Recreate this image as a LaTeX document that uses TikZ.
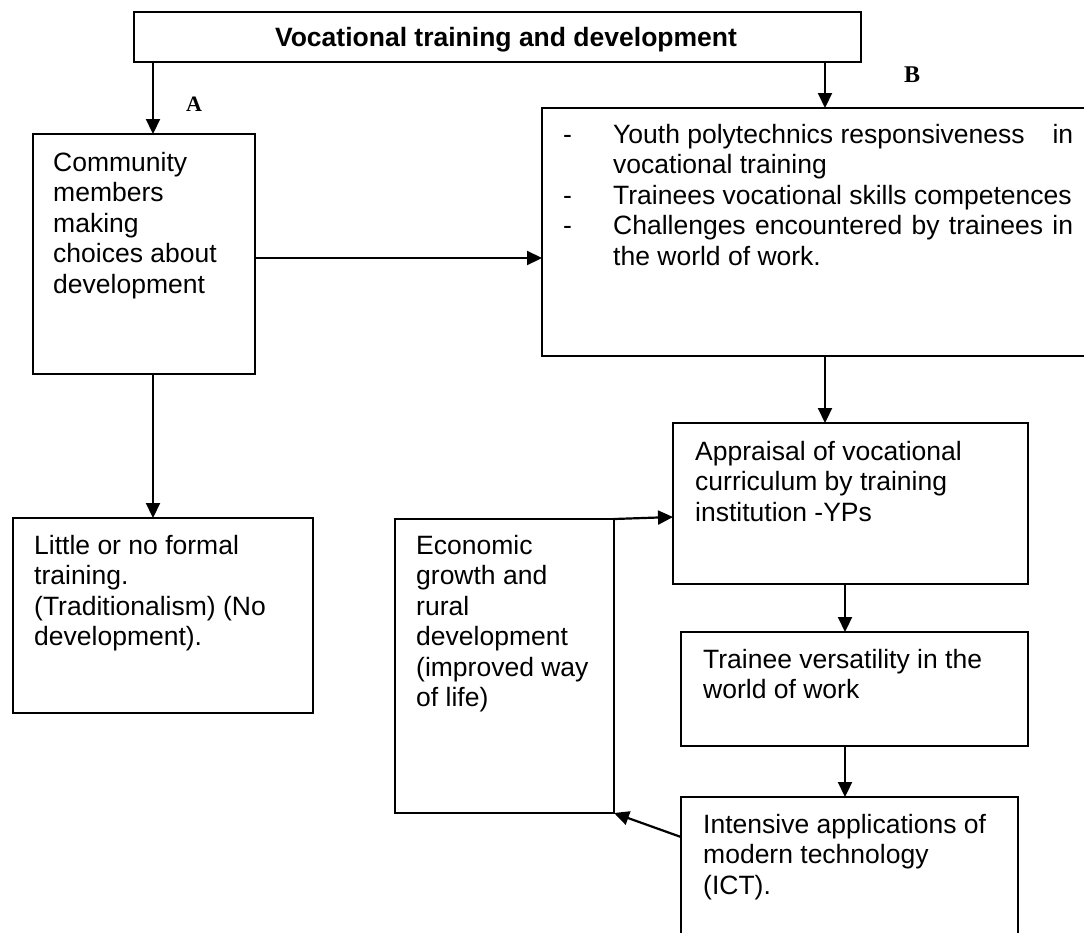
\documentclass[tikz,border=0pt]{standalone}
\usepackage{fontspec}
\setmainfont{Liberation Sans}
\newfontfamily\tnr{Liberation Serif}
\usetikzlibrary{arrows.meta}
\begin{document}
\begin{tikzpicture}[x=1pt,y=-1pt,
  boxst/.style={draw=black, line width=2.2pt, rectangle, inner sep=0pt, outer sep=0pt, anchor=north west},
  txt/.style={anchor=north west, inner sep=0pt, align=left, font=\fontsize{26.5}{30.5}\selectfont},
  ttl/.style={inner sep=0pt, font=\fontsize{26.5}{30.5}\selectfont\bfseries},
  lbl/.style={inner sep=0pt, font=\tnr\bfseries},
  arr/.style={line width=2.2pt, -{Triangle[length=15pt,width=14pt]}}]
\useasboundingbox (0,0) rectangle (1084,932);
\clip (0,0) rectangle (1084,932);
\fill[white] (0,0) rectangle (1084,932);

% boxes
\node[boxst, minimum width=727pt, minimum height=50pt] (title) at (134,12) {};
\node[boxst, minimum width=222pt, minimum height=240pt] (comm) at (33,134) {};
\node[boxst, minimum width=560pt, minimum height=248pt] (bbox) at (542,108) {};
\node[boxst, minimum width=300pt, minimum height=195pt] (little) at (13,518) {};
\node[boxst, minimum width=355pt, minimum height=161pt] (appr) at (673,423) {};
\node[boxst, minimum width=219pt, minimum height=294pt] (econ) at (395,519) {};
\node[boxst, minimum width=347pt, minimum height=114pt] (train) at (681,632) {};
\node[boxst, minimum width=337pt, minimum height=160pt] (inten) at (681,797) {};

% texts
\node[ttl, anchor=base] (ttltxt) at (506,46) {Vocational training and development};
\node[lbl, font=\tnr\bfseries\fontsize{22}{24}\selectfont] (la) at (194,104) {A};
\node[lbl, font=\tnr\bfseries\fontsize{24}{26}\selectfont] (lb) at (912,75) {B};

\node[txt] (commtxt) at (53,151) {\rule{0pt}{20pt}Community\\members\\making\\choices about\\development};
\node[txt] (btxt) at (613,123) {\rule{0pt}{20pt}\llap{\makebox[50pt][l]{-}}\makebox[460pt][l]{Youth polytechnics responsiveness\hfill in}\\
vocational training\\
\llap{\makebox[50pt][l]{-}}Trainees vocational skills competences\\
\llap{\makebox[50pt][l]{-}}\makebox[460pt][s]{Challenges encountered by trainees in}\\
the world of work.};
\node[txt] (littletxt) at (34,534) {\rule{0pt}{20pt}Little or no formal\\training.\\(Traditionalism) (No\\development).};
\node[txt] (econtxt) at (416,534) {\rule{0pt}{20pt}Economic\\growth and\\rural\\development\\(improved way\\of life)};
\node[txt] (apprtxt) at (695,440) {\rule{0pt}{20pt}Appraisal of vocational\\curriculum by training\\institution -YPs};
\node[txt] (traintxt) at (703,648) {\rule{0pt}{20pt}Trainee versatility in the\\world of work};
\node[txt] (intentxt) at (703,813) {\rule{0pt}{20pt}Intensive applications of\\modern technology\\(ICT).};

% connector guides
\coordinate (xa) at (153,0);
\coordinate (xb) at (825,0);
\coordinate (xc) at (845,0);
\coordinate (yh) at (0,258);
\coordinate (ye) at (0,517);
\coordinate (yi) at (0,837);

% connectors
\draw[arr] (title.south -| xa) -- (comm.north -| xa);
\draw[arr] (title.south -| xb) -- (bbox.north -| xb);
\draw[arr] (comm.east |- yh) -- (bbox.west |- yh);
\draw[arr] (comm.south -| xa) -- (little.north -| xa);
\draw[arr] (bbox.south -| xb) -- (appr.north -| xb);
\draw[arr] (appr.south -| xc) -- (train.north -| xc);
\draw[arr] (train.south -| xc) -- (inten.north -| xc);
\draw[arr] (econ.north east) -- (appr.west |- ye);
\draw[arr] (inten.west |- yi) -- (econ.south east);
\end{tikzpicture}
\end{document}
